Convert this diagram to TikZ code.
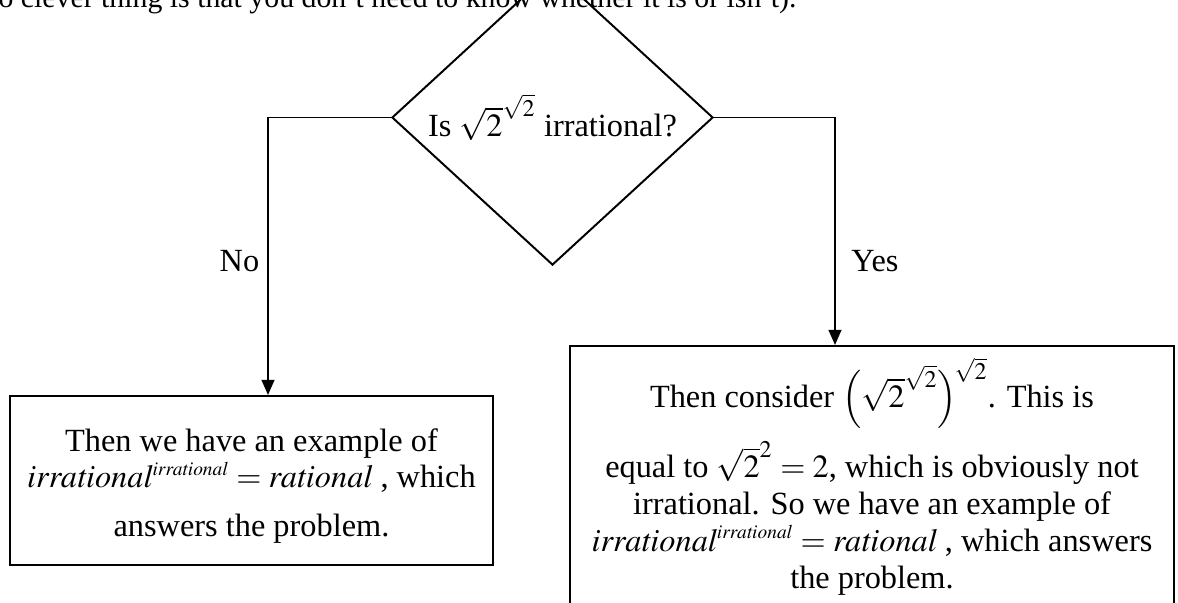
\documentclass[tikz,border=0pt]{standalone}
\usepackage{mathptmx}
\usepackage[no-math]{fontspec}
\setmainfont{Liberation Serif}
\usetikzlibrary{arrows.meta, positioning, shapes.geometric}
\newcommand{\flowfont}{\fontsize{11.5pt}{13.1pt}\selectfont\lineskiplimit=-\maxdimen}
\newcommand{\irrpow}{\mathit{irrational}^{\scriptscriptstyle\mathit{irrational}}=\mathit{rational}}
\tikzset{
    box/.style={rectangle, draw=black, line width=0.7pt, align=center, inner xsep=0pt, inner ysep=0pt, font=\flowfont},
    decision/.style={diamond, draw=black, line width=0.7pt, inner sep=0pt, minimum width=4.0125cm, minimum height=2.7cm, font=\flowfont},
    arrow/.style={-{Triangle[length=1.9mm, width=1.6mm]}, line width=0.7pt, draw=black},
    answer/.style={inner sep=0pt, anchor=base, font=\flowfont}
}

\begin{document}
\begin{tikzpicture}[x=0.0125cm, y=-0.0125cm]
    \clip (0,0) rectangle (1178,603);
    \fill[white] (0,0) rectangle (1178,603);
    \node[decision] (q) at (552.5,117.5) {Is $\sqrt{2}^{\sqrt{2}}$ irrational?};
    \node[box, anchor=north, minimum width=6.0375cm, text height=1.75cm, text depth=0.3625cm] (nobox) at (251.5,395)
        {Then we have an example of\\
         $\irrpow$ , which\\[4pt]
         answers the problem.};
    \node[box, anchor=north, minimum width=7.55cm, text height=3.025cm, text depth=0.45cm] (yesbox) at (872,345)
        {Then consider $\Bigl(\sqrt{2}^{\sqrt{2}}\Bigr)^{\!\sqrt{2}}$. This is\\[11.7pt]
         equal to $\sqrt{2}^{2}=2$, which is obviously not\\
         irrational. So we have an example of\\
         $\irrpow$ , which answers\\
         the problem.};
    \coordinate (noin) at (268,395);
    \coordinate (yesin) at (835,345);
    \node[answer] (nolbl) at (239.5,272) {No};
    \node[answer] (yeslbl) at (875,272) {Yes};
    \draw[arrow] (q.west) -| (noin);
    \draw[arrow] (q.east) -| (yesin);
    \node[answer, anchor=base west, font=\fontsize{10.6pt}{12pt}\selectfont] (intro) at (-2,8) {o clever thing is that you don't need to know whether it is or isn't).};
\end{tikzpicture}
\end{document}
